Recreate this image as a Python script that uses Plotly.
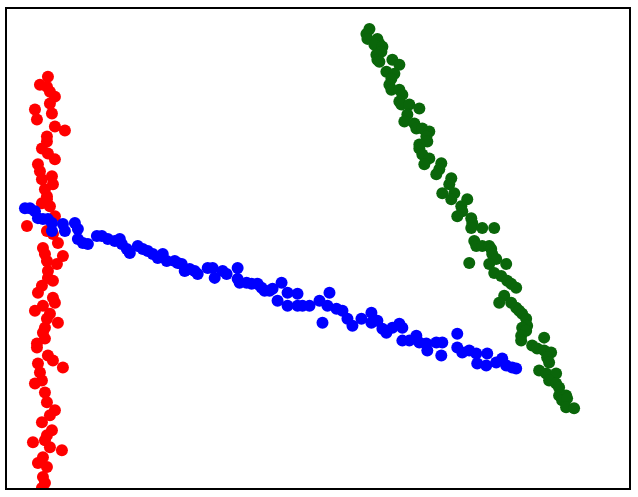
import plotly.graph_objects as go

# Values (arbitrary units, no ticks shown)
red_x = [41, 33, 40, 43, 48, 43, 28, 45, 30, 48, 58, 40, 40, 35, 41, 48, 31, 33, 45, 35,
         46, 38, 40, 40, 35, 43, 48, 20, 40, 46, 51, 36, 38, 56, 40, 50, 41, 41, 46, 35,
         31, 46, 48, 36, 28, 43, 40, 51, 38, 36, 38, 30, 30, 41, 46, 56, 31, 33, 35, 28,
         38, 40, 48, 43, 35, 45, 40, 26, 38, 43, 55, 36, 31, 40, 36, 38, 35]
red_y = [413, 405, 403, 398, 393, 386, 380, 376, 370, 363, 359, 353, 348, 341, 336, 330, 325, 318, 313, 310,
         305, 300, 293, 290, 286, 283, 273, 263, 258, 255, 246, 241, 235, 233, 228, 225, 218, 211, 208, 203,
         196, 191, 186, 183, 178, 175, 170, 166, 161, 156, 150, 145, 141, 133, 128, 121, 125, 116, 108, 105,
         96, 86, 78, 73, 66, 58, 53, 46, 48, 41, 38, 31, 25, 21, 11, 5, 0]

blue_x = [18, 23, 28, 31, 36, 41, 45, 45, 56, 58, 68, 71, 71, 76, 81, 90, 95, 101, 108, 113,
          115, 120, 123, 131, 136, 141, 146, 151, 156, 160, 168, 171, 175, 178, 183, 188, 191, 201, 206, 208,
          216, 220, 231, 231, 233, 240, 245, 251, 255, 258, 263, 266, 275, 281, 291, 271, 281, 291, 296, 303,
          313, 323, 321, 316, 330, 336, 341, 346, 355, 365, 365, 371, 376, 380, 386, 393, 396, 396, 403, 410,
          413, 420, 421, 430, 436, 435, 451, 451, 456, 463, 470, 471, 480, 481, 490, 496, 500, 506, 510]
blue_y = [281, 281, 278, 271, 270, 270, 266, 258, 265, 258, 266, 260, 250, 246, 245, 253, 253, 250, 248, 250,
          245, 240, 236, 243, 240, 238, 235, 231, 235, 228, 228, 226, 225, 218, 220, 218, 215, 221, 221, 211,
          218, 215, 221, 210, 206, 206, 205, 205, 201, 198, 198, 200, 206, 196, 195, 188, 183, 183, 183, 183,
          188, 196, 183, 166, 180, 178, 170, 163, 170, 176, 166, 168, 160, 156, 161, 165, 161, 148, 148, 153,
          146, 145, 138, 146, 146, 133, 155, 141, 136, 138, 135, 125, 123, 135, 126, 130, 123, 121, 120]

green_x = [363, 360, 361, 371, 373, 368, 376, 375, 370, 371, 373, 386, 393, 380, 388, 385, 383, 385, 393, 396,
           393, 395, 403, 413, 401, 398, 408, 410, 416, 423, 420, 421, 413, 413, 416, 423, 418, 435, 433, 430,
           445, 443, 436, 448, 445, 461, 455, 456, 451, 465, 466, 465, 476, 488, 468, 470, 476, 483, 485, 486,
           490, 463, 483, 500, 488, 495, 501, 505, 510, 498, 493, 505, 510, 513, 516, 520, 521, 516, 520, 515,
           515, 538, 526, 531, 538, 545, 541, 543, 533, 540, 550, 543, 550, 553, 553, 560, 556, 561, 560, 568]
green_y = [461, 456, 451, 451, 446, 445, 443, 438, 435, 430, 428, 430, 425, 418, 416, 411, 405, 400, 400, 395,
           388, 385, 385, 381, 375, 368, 366, 361, 361, 358, 353, 348, 345, 341, 335, 331, 325, 326, 320, 315,
           311, 305, 296, 296, 290, 290, 283, 278, 273, 271, 266, 261, 261, 261, 248, 243, 243, 243, 240, 235,
           230, 226, 225, 225, 216, 213, 208, 205, 201, 193, 186, 186, 181, 178, 175, 170, 163, 161, 158, 153,
           148, 151, 143, 140, 138, 136, 131, 126, 118, 115, 115, 108, 105, 101, 93, 93, 88, 90, 81, 80]

fig = go.Figure()
for xs, ys, col in [(red_x, red_y, '#ff0000'), (blue_x, blue_y, '#0000ff'), (green_x, green_y, '#0a660a')]:
    fig.add_trace(go.Scatter(x=xs, y=ys, mode='markers',
                             marker=dict(color=col, size=12, line=dict(width=0)),
                             showlegend=False))

axis_style = dict(showline=True, linecolor='black', linewidth=1.5, mirror=True,
                  showgrid=False, zeroline=False, showticklabels=False, ticks='')
fig.update_layout(
    width=638, height=497,
    margin=dict(l=7, r=8, t=7, b=9),
    plot_bgcolor='white', paper_bgcolor='white',
    xaxis=dict(range=[0, 623], **axis_style),
    yaxis=dict(range=[0, 481], **axis_style),
)

# the page's default body margin would push the chart off by 8px
fig.write_html("out.html", config={'displayModeBar': False},
               post_script="document.body.style.margin='0';")
